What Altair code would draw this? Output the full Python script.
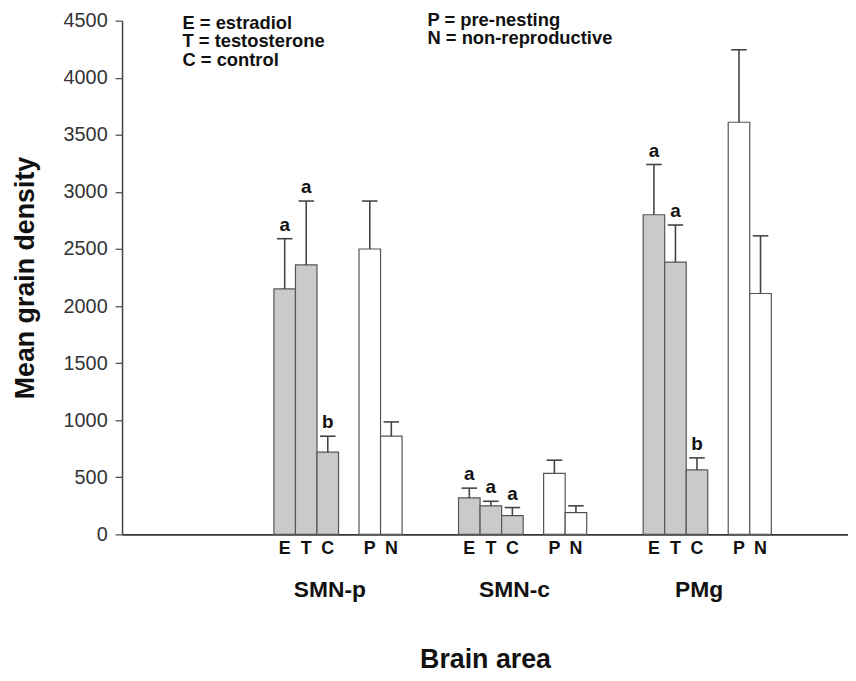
import altair as alt
import pandas as pd

# ---------------- data ----------------
areas = ["SMN-p", "SMN-c", "PMg"]
groups = ["E", "T", "C", "P", "N"]
hormone_groups = ["E", "T", "C"]

mean_smnp = [2150, 2360, 720, 2500, 860]
mean_smnc = [320, 250, 165, 535, 190]
mean_pmg = [2800, 2385, 565, 3610, 2110]

se_smnp = [440, 560, 140, 420, 125]
se_smnc = [85, 40, 70, 115, 60]
se_pmg = [440, 325, 105, 635, 505]

sig_smnp = ["a", "a", "b", "", ""]
sig_smnc = ["a", "a", "a", "", ""]
sig_pmg = ["a", "a", "b", "", ""]

y_ticks = [0, 500, 1000, 1500, 2000, 2500, 3000, 3500, 4000, 4500]

legend_left = ["E = estradiol", "T = testosterone", "C = control"]
legend_right = ["P = pre-nesting", "N = non-reproductive"]

# ---------------- layout (bar-width units) ----------------
group_start = [7.05, 15.62, 24.19]
bar_offset = [0, 1, 2, 3.95, 4.95]
label_offset = 2.6
cap_half = 0.36
x_max = 33.7

W, H = 732, 518
FONT = "Liberation Sans"

means = [mean_smnp, mean_smnc, mean_pmg]
ses = [se_smnp, se_smnc, se_pmg]
sigs = [sig_smnp, sig_smnc, sig_pmg]

rows = []
for g, area in enumerate(areas):
    for i, grp in enumerate(groups):
        x0 = group_start[g] + bar_offset[i]
        rows.append({
            "area": area,
            "group": grp,
            "kind": "hormone" if grp in hormone_groups else "natural",
            "x0": x0,
            "x1": x0 + 1,
            "xc": x0 + 0.5,
            "cx0": x0 + 0.5 - cap_half,
            "cx1": x0 + 0.5 + cap_half,
            "mean": means[g][i],
            "upper": means[g][i] + ses[g][i],
            "sig": sigs[g][i],
        })
df = pd.DataFrame(rows)

area_df = pd.DataFrame({
    "area": areas,
    "xc": [s + label_offset for s in group_start],
})

xscale = alt.Scale(domain=[0, x_max], nice=False, zero=False)
yscale = alt.Scale(domain=[0, 4500], nice=False)

x_axis = alt.Axis(
    title="Brain area", labels=False, ticks=False, grid=False,
    domainColor="#333", domainWidth=1.6,
    titleFont=FONT, titleFontSize=27, titleFontWeight="bold", titleColor="#111",
    titleY=134, titleBaseline="alphabetic",
)
y_axis = alt.Axis(
    title="Mean grain density", values=y_ticks, grid=False, format="d",
    tickSize=7, tickColor="#444", tickWidth=1.2,
    domainColor="#444", domainWidth=1.5,
    labelFont=FONT, labelFontSize=20, labelColor="#333", labelPadding=8,
    titleFont=FONT, titleFontSize=27, titleFontWeight="bold", titleColor="#111",
    titleX=-97, titleBaseline="middle",
)

base = alt.Chart(df)

bars = base.mark_bar(stroke="#555", strokeWidth=1.2).encode(
    x=alt.X("x0:Q", scale=xscale, axis=x_axis),
    x2="x1:Q",
    y=alt.Y("mean:Q", scale=yscale, axis=y_axis),
    y2=alt.datum(0),
    color=alt.Color("kind:N", scale=alt.Scale(domain=["hormone", "natural"],
                                               range=["#cacaca", "#ffffff"]), legend=None),
)

err = base.mark_rule(color="#444", strokeWidth=1.6).encode(
    x="xc:Q", y="mean:Q", y2="upper:Q"
)
caps = base.mark_rule(color="#444", strokeWidth=1.6).encode(
    x="cx0:Q", x2="cx1:Q", y="upper:Q"
)
letters = base.mark_text(font=FONT, fontSize=19, fontWeight="bold", color="#111",
                         baseline="bottom", dy=-4).encode(
    x="xc:Q", y="upper:Q", text="sig:N"
)
group_labels = base.mark_text(font=FONT, fontSize=18, fontWeight="bold", color="#111",
                              baseline="top", dy=6).encode(
    x="xc:Q", y=alt.datum(0), text="group:N"
)
area_labels = alt.Chart(area_df).mark_text(font=FONT, fontSize=23, fontWeight="bold",
                                           color="#111", baseline="middle", dy=56).encode(
    x="xc:Q", y=alt.datum(0), text="area:N"
)

one = alt.Data(values=[{}])
leg1 = alt.Chart(one).mark_text(font=FONT, fontSize=18.5, fontWeight="bold", color="#111",
                                align="left", baseline="middle", lineHeight=19).encode(
    x=alt.value(61), y=alt.value(2), text=alt.value(legend_left)
)
leg2 = alt.Chart(one).mark_text(font=FONT, fontSize=18.5, fontWeight="bold", color="#111",
                                align="left", baseline="middle", lineHeight=19).encode(
    x=alt.value(308), y=alt.value(-1), text=alt.value(legend_right)
)

chart = alt.layer(bars, err, caps, letters, group_labels, area_labels, leg1, leg2).properties(
    width=W, height=H,
    autosize=alt.AutoSizeParams(type="none"),
    padding={"left": 115, "top": 10, "right": 0, "bottom": 137},
    background="white",
).configure_view(stroke=None)

chart.save("out.html", embed_options={"renderer": "svg", "actions": False})
